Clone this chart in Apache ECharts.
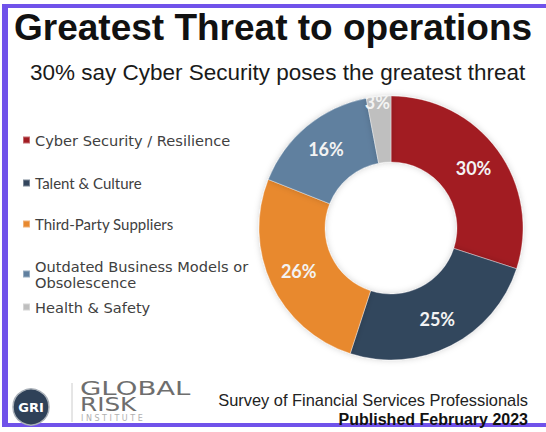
<!DOCTYPE html>
<html><head><meta charset="utf-8">
<script src="https://cdn.jsdelivr.net/npm/echarts@6/dist/echarts.min.js"></script>
<style>html,body{margin:0;padding:0;background:#fff}#c{width:546px;height:432px}</style>
</head><body><div id="c"></div>
<script>
const categories = ['Cyber Security / Resilience','Talent & Culture','Third-Party Suppliers','Outdated Business Models or Obsolescence','Health & Safety'];
const legendLabels = ['Cyber Security / Resilience','Talent & Culture','Third-Party Suppliers','Outdated Business Models or\nObsolescence','Health & Safety'];
const values = [30,25,26,16,3];
const titleText = 'Greatest Threat to operations';
const subtitleText = '30% say Cyber Security poses the greatest threat';
const footerLine1 = 'Survey of Financial Services Professionals';
const footerLine2 = 'Published February 2023';
const logoWords = ['GRI','GLOBAL','RISK','I N S T I T U T E'];

const colors = ['#a21c22','#33465d','#e8892f','#60809f','#bfbfbf'];
const legendTops = [132,175.5,216.5,258,299];
const legendFonts = [
  {fontFamily:'DejaVu Sans', fontSize:14.6, lineHeight:16},
  {fontFamily:'Lato', fontSize:15, lineHeight:15},
  {fontFamily:'Lato', fontSize:15, lineHeight:15},
  {fontFamily:'DejaVu Sans', fontSize:14.6, lineHeight:16},
  {fontFamily:'DejaVu Sans', fontSize:14.6, lineHeight:16}
];
const purple = '#7052ea';

const chart = echarts.init(document.getElementById('c'), null, {renderer:'svg'});

const legends = categories.map((name,i)=>({
  left: 22, top: legendTops[i], orient:'vertical', padding:0,
  data:[name], itemWidth:7, itemHeight:7, itemGap:0, icon:'rect',
  selectedMode:false,
  formatter: ()=>legendLabels[i],
  textStyle:Object.assign({color:'#404040'}, legendFonts[i])
}));

chart.setOption({
  animation:false,
  backgroundColor:'#ffffff',
  color: colors,
  title:[
    {text:titleText, left:14, top:9, padding:0,
     textStyle:{fontFamily:'Liberation Sans', fontWeight:'bold', fontSize:37, color:'#111'}},
    {text:subtitleText, left:30, top:61, padding:0,
     textStyle:{fontFamily:'Liberation Sans', fontWeight:'normal', fontSize:22.5, color:'#1a1a1a'}}
  ],
  legend: legends,
  series:[{
    type:'pie',
    center:[391,228],
    radius:[66,132],
    startAngle:90,
    clockwise:true,
    silent:true,
    data: categories.map((n,i)=>({name:n, value:values[i]})),
    itemStyle:{borderColor:'rgba(255,255,255,0.35)', borderWidth:1, shadowBlur:6, shadowColor:'rgba(0,0,0,0.18)'},
    label:{show:true, position:'inside', formatter:'{c}%', color:'#f3f3f3',
      fontFamily:'Lato', fontWeight:'bold', fontSize:18},
    labelLayout: function(p){ if(p.dataIndex===4) return {dx:-4, dy:-24}; return {}; },
    labelLine:{show:false},
    emphasis:{disabled:true}
  }],
  graphic:[
    {type:'rect', shape:{x:2,y:4,width:6,height:423}, style:{fill:purple}, silent:true},
    {type:'rect', shape:{x:2,y:4,width:544,height:4}, style:{fill:purple}, silent:true},
    {type:'rect', shape:{x:2,y:423,width:544,height:4}, style:{fill:purple}, silent:true},
    {type:'circle', shape:{cx:31, cy:407, r:18}, style:{fill:'#2f4158', stroke:'#a9b0b8', lineWidth:1.5}, silent:true},
    {type:'text', x:31, y:407, style:{text:logoWords[0], fill:'#ffffff', font:'bold 13px "DejaVu Sans"', align:'center', verticalAlign:'middle'}, silent:true},
    {type:'line', shape:{x1:72,y1:383,x2:72,y2:422}, style:{stroke:'#cccccc', lineWidth:1}, silent:true},
    {type:'text', x:80, y:389, scaleX:1.45, style:{text:logoWords[1], fill:'#6e6e6e', font:'19px "DejaVu Sans"', align:'left', verticalAlign:'middle'}, silent:true},
    {type:'text', x:80, y:405, scaleX:1.3, style:{text:logoWords[2], fill:'#6e6e6e', font:'19px "DejaVu Sans"', align:'left', verticalAlign:'middle'}, silent:true},
    {type:'text', x:81, y:418, style:{text:logoWords[3], fill:'#b0b0b0', font:'8px "DejaVu Sans"', align:'left', verticalAlign:'middle'}, silent:true},
    {type:'text', x:528, y:400, style:{text:footerLine1, fill:'#222', font:'16.4px "Liberation Sans"', align:'right', verticalAlign:'middle'}, silent:true},
    {type:'text', x:528, y:419, style:{text:footerLine2, fill:'#111', font:'bold 16px "Liberation Sans"', align:'right', verticalAlign:'middle'}, silent:true}
  ]
});
</script></body></html>
